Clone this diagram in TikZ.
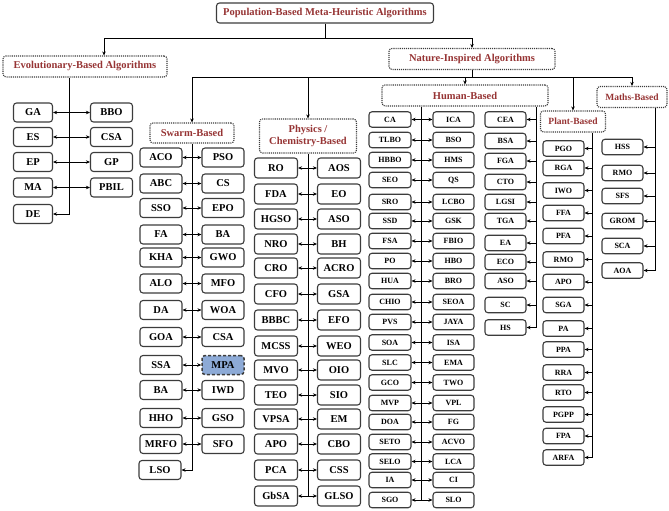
\documentclass[tikz,border=0pt]{standalone}
\usepackage{fontspec}
\setmainfont{Liberation Serif}
\usepackage{tikz}
\usetikzlibrary{arrows.meta,calc}

\definecolor{headred}{RGB}{150,52,52}
\definecolor{boxline}{RGB}{60,60,60}
\definecolor{mpablue}{RGB}{141,170,214}

\tikzset{
    algbox/.style={draw=boxline, line width=1.1pt, rounded corners=3pt, fill=white, inner sep=0pt,
        minimum width=42pt, minimum height=19pt, font=\fontsize{10.5}{12}\selectfont\bfseries},
    smallbox/.style={algbox, minimum width=41pt, minimum height=15.5pt, font=\fontsize{8}{9}\selectfont\bfseries},
    mpabox/.style={algbox, fill=mpablue, line width=1.5pt, dash pattern=on 3pt off 2pt},
    headbox/.style={draw=boxline, densely dotted, line width=1.1pt, rounded corners=3pt, inner sep=0pt,
        minimum height=21pt, text=headred, align=center, font=\fontsize{10.5}{12}\selectfont\bfseries},
    link/.style={line width=0.8pt, black},
}

\begin{document}
\begin{tikzpicture}[x=1pt, y=-1pt, >={Stealth[length=4pt,width=3.5pt]}]
    \useasboundingbox (0,0) rectangle (669,511);

    \node[headbox, solid, minimum width=217pt, minimum height=20pt] (root) at (325,13) {Population-Based Meta-Heuristic Algorithms};
    \node[headbox, minimum width=164pt] (evo) at (85,66.5) {Evolutionary-Based Algorithms};
    \node[headbox, minimum width=166pt] (nature) at (472,59) {Nature-Inspired Algorithms};
    \node[headbox, minimum width=84pt, minimum height=20pt] (swarm) at (192,133) {Swarm-Based};
    \node[headbox, minimum width=97pt, minimum height=34pt] (physics) at (308,136) {Physics /\\Chemistry-Based};
    \node[headbox, minimum width=166pt] (human) at (465,95.5) {Human-Based};
    \node[headbox, minimum width=65pt, font=\fontsize{9.5}{11}\selectfont\bfseries] (plant) at (573,121.5) {Plant-Based};
    \node[headbox, minimum width=70pt, font=\fontsize{9.5}{11}\selectfont\bfseries] (maths) at (632,97) {Maths-Based};

    \coordinate (rootj) at (325,38);
    \coordinate (natj) at (472,77);
    \draw[link] (root.south) -- (rootj);
    \draw[link,->] (rootj) -| ($(evo.north)+(19,0)$);
    \draw[link,->] (rootj) -| (nature.north);
    \draw[link] (nature.south) -- (natj);
    \draw[link,->] (natj) -| (swarm.north);
    \draw[link,->] (natj) -| (maths.north);
    \draw[link,->] (physics.north |- natj) -- (physics.north);
    \draw[link,->] (human.north |- natj) -- (human.north);
    \draw[link,->] (plant.north |- natj) -- (plant.north);

    % Evolutionary
    \foreach \a/\b/\y [count=\i] in {GA/BBO/112.5, ES/CSA/137, EP/GP/162, MA/PBIL/187.5} {
        \node[algbox, minimum width=39pt] (evl\i) at (33,\y) {\a};
        \node[algbox] (evr\i) at (111.5,\y) {\b};
        \draw[link,<->] (evl\i) -- (evr\i);
    }
    \node[algbox, minimum width=39pt] (de) at (33,214) {DE};
    \draw[link,->] ($(evo.south)+(-16,0)$) |- (de);

    % Swarm
    \foreach \a/\b/\y [count=\i] in {ACO/PSO/157.5, ABC/CS/183.5, SSO/EPO/208, FA/BA/234.5, KHA/GWO/257.5,
        ALO/MFO/283.5, DA/WOA/310, GOA/CSA/337, BA/IWD/390, HHO/GSO/418, MRFO/SFO/444} {
        \node[algbox] (swl\i) at (161,\y) {\a};
        \node[algbox] (swr\i) at (223,\y) {\b};
        \draw[link,<->] (swl\i) -- (swr\i);
    }
    \node[algbox] (ssa) at (161,365) {SSA};
    \node[mpabox] (mpa) at (223,365) {MPA};
    \draw[link,<->] (ssa) -- (mpa);
    \node[algbox] (lso) at (160,470) {LSO};
    \draw[link,->] (swarm.south) |- (lso);

    % Physics / Chemistry
    \foreach \a/\b/\y [count=\i] in {RO/AOS/168, FDA/EO/194, HGSO/ASO/219, NRO/BH/244, CRO/ACRO/268, CFO/GSA/294,
        BBBC/EFO/320, MCSS/WEO/346, MVO/OIO/370, TEO/SIO/395, VPSA/EM/419, APO/CBO/444, PCA/CSS/470, GbSA/GLSO/496} {
        \node[algbox, minimum width=43pt, minimum height=20pt] (phl\i) at (276,\y) {\a};
        \node[algbox, minimum width=43pt, minimum height=20pt] (phr\i) at (339,\y) {\b};
        \draw[link,<->] (phl\i) -- (phr\i);
    }
    \draw[link] (physics.south) -- (physics.south |- phl14.east);

    % Human
    \coordinate (hbus1) at ($(human.south)+(-44,0)$);
    \coordinate (hbus2) at ($(human.south)+(71,0)$);
    \foreach \a/\b/\y [count=\i] in {CA/ICA/119.5, TLBO/BSO/140, HBBO/HMS/160, SEO/QS/180, SRO/LCBO/202,
        SSD/GSK/221, FSA/FBIO/241, PO/HBO/261, HUA/BRO/281, CHIO/SEOA/302, PVS/JAYA/322, SOA/ISA/342.5,
        SLC/EMA/362.5, GCO/TWO/382.5, MVP/VPL/403, DOA/FG/422, SETO/ACVO/442, SELO/LCA/461.5, IA/CI/480, SGO/SLO/500} {
        \node[smallbox, minimum width=42pt] (hul\i) at (390,\y) {\a};
        \node[smallbox] (hum\i) at (453.5,\y) {\b};
        \draw[link,<->] (hul\i) -- (hum\i);
    }
    \draw[link] (hbus1) -- (hbus1 |- hul20.east);
    \foreach \a/\y [count=\i] in {CEA/119.5, BSA/141, FGA/161, CTO/182, LGSI/202, TGA/221, EA/243, ECO/262, ASO/281, SC/305} {
        \node[smallbox] (hur\i) at (505.5,\y) {\a};
        \draw[link,->] (hbus2 |- hur\i.east) -- (hur\i.east);
    }
    \node[smallbox] (hs) at (505.5,327.5) {HS};
    \draw[link,->] (hbus2) |- (hs);

    % Plant
    \coordinate (pbus) at ($(plant.south)+(19,0)$);
    \foreach \a/\y [count=\i] in {PGO/148.5, RGA/168, IWO/190.5, FFA/213, PFA/236, RMO/259.5, APO/282, SGA/305,
        PA/328.5, PPA/349.5, RRA/372.5, RTO/392.5, PGPP/414.5, FPA/436} {
        \node[smallbox] (pl\i) at (563.5,\y) {\a};
        \draw[link,->] (pbus |- pl\i.east) -- (pl\i.east);
    }
    \node[smallbox] (arfa) at (563.5,457.5) {ARFA};
    \draw[link,->] (pbus) |- (arfa);

    % Maths
    \coordinate (mbus) at ($(maths.south)+(23,0)$);
    \foreach \a/\y [count=\i] in {HSS/147, RMO/173, SFS/196, GROM/221, SCA/246} {
        \node[smallbox] (ma\i) at (622.5,\y) {\a};
        \draw[link,->] (mbus |- ma\i.east) -- (ma\i.east);
    }
    \node[smallbox] (aoa) at (622.5,270.5) {AOA};
    \draw[link,->] (mbus) |- (aoa);
\end{tikzpicture}
\end{document}
